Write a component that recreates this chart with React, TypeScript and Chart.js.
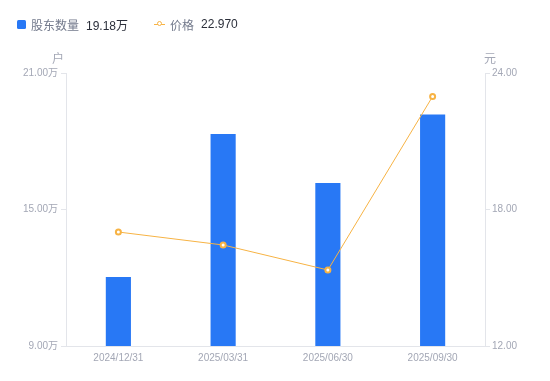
import React, { useEffect, useRef } from "react";
import { Chart, registerables } from "chart.js";

Chart.register(...registerables);

const categories = ["2024/12/31", "2025/03/31", "2025/06/30", "2025/09/30"];
const holders = [12.03, 18.32, 16.16, 19.18]; // 万户
const prices = [17.01, 16.44, 15.34, 22.97]; // 元
const leftTicks = [9, 15, 21];
const rightTicks = [12, 18, 24];

const FONT = "'Liberation Sans', 'Noto Sans CJK SC', sans-serif";
const BAR = "#2878f5";
const LINE = "#f7b344";
const AXIS = "#e3e5ea";
const TICK = "#a3a7b5";

export default function App() {
  const ref = useRef<HTMLCanvasElement | null>(null);
  useEffect(() => {
    if (!ref.current) return;
    const chart = new Chart(ref.current, {
      type: "bar",
      data: {
        labels: categories,
        datasets: [
          {
            type: "line",
            label: "价格",
            data: prices,
            yAxisID: "y1",
            borderColor: LINE,
            borderWidth: 1,
            pointRadius: 2.5,
            pointBorderWidth: 2,
            pointBackgroundColor: "#ffffff",
            pointBorderColor: LINE,
            tension: 0,
            order: 0,
          },
          {
            type: "bar",
            label: "股东数量",
            data: holders,
            yAxisID: "y",
            backgroundColor: BAR,
            barPercentage: 0.24,
            categoryPercentage: 1,
            order: 1,
          },
        ],
      },
      options: {
        animation: false,
        responsive: true,
        maintainAspectRatio: false,
        layout: { padding: { top: 73, left: 0, right: 0, bottom: 0 } },
        plugins: { legend: { display: false }, tooltip: { enabled: false } },
        scales: {
          x: {
            grid: { display: false, drawTicks: false },
            border: { display: true, color: AXIS },
            ticks: { color: TICK, font: { family: FONT, size: 10 }, padding: 6, maxRotation: 0 },
            afterFit: (s: any) => { s.height = 35; },
          },
          y: {
            position: "left",
            min: leftTicks[0],
            max: leftTicks[leftTicks.length - 1],
            afterBuildTicks: (s: any) => { s.ticks = leftTicks.map((v) => ({ value: v })); },
            grid: { drawOnChartArea: false, drawTicks: true, tickLength: 5, color: AXIS },
            border: { display: true, color: AXIS },
            ticks: {
              color: TICK,
              font: { family: FONT, size: 10 },
              padding: 3,
              callback: (v: any) => `${Number(v).toFixed(2)}万`,
            },
            afterFit: (s: any) => { s.width = 66; },
          },
          y1: {
            position: "right",
            min: rightTicks[0],
            max: rightTicks[rightTicks.length - 1],
            afterBuildTicks: (s: any) => { s.ticks = rightTicks.map((v) => ({ value: v })); },
            grid: { drawOnChartArea: false, drawTicks: true, tickLength: 5, color: AXIS },
            border: { display: true, color: AXIS },
            ticks: {
              color: TICK,
              font: { family: FONT, size: 10 },
              padding: 2,
              callback: (v: any) => Number(v).toFixed(2),
            },
            afterFit: (s: any) => { s.width = 65; },
          },
        },
      },
    });
    return () => chart.destroy();
  }, []);

  const legendText: React.CSSProperties = { fontFamily: FONT, fontSize: 12 };
  return (
    <div style={{ position: "fixed", left: 0, top: 0, width: 550, height: 381, background: "#fff" }}>
      <canvas ref={ref} />
      <div style={{ position: "absolute", left: 17, top: 16, display: "flex", alignItems: "center", height: 16, ...legendText }}>
        <span style={{ display: "inline-block", width: 9, height: 9, background: BAR, borderRadius: 1.5 }} />
        <span style={{ marginLeft: 5, color: "#737a8c" }}>股东数量</span>
        <span style={{ marginLeft: 7, color: "#2b2f3a" }}>19.18万</span>
        <span style={{ marginLeft: 26, position: "relative", display: "inline-block", width: 11, height: 9 }}>
          <span style={{ position: "absolute", left: 0, right: 0, top: 4, height: 1, background: LINE }} />
          <span style={{ position: "absolute", left: 2.5, top: 1.5, width: 3, height: 3, border: `1.5px solid ${LINE}`, borderRadius: "50%", background: "#fff" }} />
        </span>
        <span style={{ marginLeft: 5, color: "#737a8c" }}>价格</span>
        <span style={{ marginLeft: 7, color: "#2b2f3a" }}>22.970</span>
      </div>
      <div style={{ position: "absolute", left: 52, top: 49, fontFamily: FONT, fontSize: 12, color: TICK }}>户</div>
      <div style={{ position: "absolute", left: 484, top: 49, fontFamily: FONT, fontSize: 12, color: TICK }}>元</div>
    </div>
  );
}
